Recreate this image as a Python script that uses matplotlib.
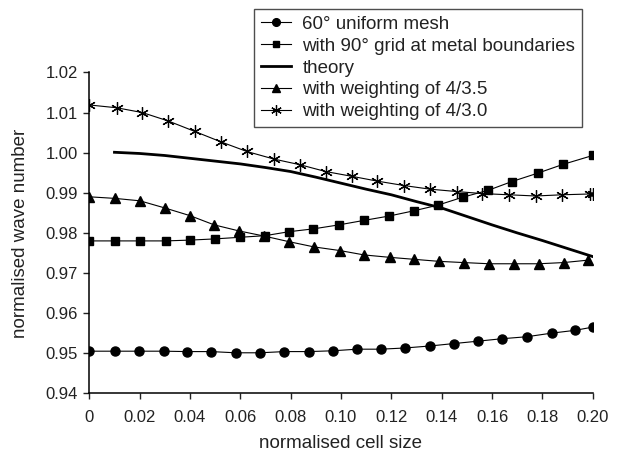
import numpy as np
import matplotlib.pyplot as plt

plt.rcParams['font.family'] = ['Liberation Sans', 'DejaVu Sans']

# 60 deg uniform mesh
x_mesh = [0, 0.0102, 0.0199, 0.0295, 0.0390, 0.0484, 0.0581, 0.0678, 0.0775, 0.0872, 0.0968,
          0.1064, 0.1159, 0.1254, 0.1354, 0.1448, 0.1545, 0.1638, 0.1738, 0.1837, 0.1930, 0.2000]
y_mesh = [0.9505, 0.9505, 0.9505, 0.9505, 0.9504, 0.9504, 0.9501, 0.9501, 0.9504, 0.9504, 0.9506,
          0.9510, 0.9510, 0.9513, 0.9518, 0.9524, 0.9530, 0.9536, 0.9541, 0.9550, 0.9557, 0.9565]

# with 90 deg grid at metal boundaries
x_grid = [0, 0.0102, 0.0201, 0.0303, 0.0400, 0.0499, 0.0598, 0.0698, 0.0794, 0.0890, 0.0992,
          0.1090, 0.1191, 0.1289, 0.1384, 0.1484, 0.1584, 0.1679, 0.1782, 0.1883, 0.2000]
y_grid = [0.9780, 0.9780, 0.9780, 0.9780, 0.9782, 0.9785, 0.9789, 0.9793, 0.9803, 0.9810, 0.9820,
          0.9831, 0.9842, 0.9855, 0.9869, 0.9889, 0.9906, 0.9928, 0.9949, 0.9971, 0.9993]

# theory
x_theory = [0.01, 0.02, 0.03, 0.04, 0.05, 0.06, 0.07, 0.08, 0.09, 0.10,
            0.11, 0.12, 0.13, 0.14, 0.15, 0.16, 0.17, 0.18, 0.19, 0.20]
y_theory = [1.0001, 0.9998, 0.9993, 0.9986, 0.9979, 0.9972, 0.9963, 0.9953, 0.9939, 0.9924,
            0.9909, 0.9895, 0.9878, 0.9862, 0.9841, 0.9820, 0.9800, 0.9781, 0.9761, 0.9741]

# weighting 4/3.5
x_w35 = [0, 0.0102, 0.0201, 0.0301, 0.0400, 0.0496, 0.0594, 0.0695, 0.0794, 0.0893, 0.0995,
         0.1092, 0.1194, 0.1292, 0.1390, 0.1487, 0.1589, 0.1686, 0.1785, 0.1885, 0.1981]
y_w35 = [0.9890, 0.9886, 0.9880, 0.9862, 0.9843, 0.9820, 0.9805, 0.9792, 0.9778, 0.9765, 0.9756,
         0.9745, 0.9739, 0.9734, 0.9729, 0.9726, 0.9723, 0.9723, 0.9723, 0.9726, 0.9732]

# weighting 4/3.0
x_w30 = [0, 0.0109, 0.0211, 0.0314, 0.0419, 0.0523, 0.0626, 0.0734, 0.0837, 0.0939, 0.1044,
         0.1145, 0.1251, 0.1354, 0.1461, 0.1562, 0.1668, 0.1773, 0.1878, 0.1988, 0.2000]
y_w30 = [1.0119, 1.0112, 1.0100, 1.0079, 1.0053, 1.0027, 1.0003, 0.9984, 0.9970, 0.9953, 0.9941,
         0.9929, 0.9918, 0.9909, 0.9903, 0.9898, 0.9895, 0.9892, 0.9895, 0.9897, 0.9897]

fig = plt.figure(figsize=(6.21, 4.53), dpi=100)
ax = fig.add_axes([0.1438, 0.1318, 0.8106, 0.7082])

ax.plot(x_mesh, y_mesh, '-', color='black', lw=0.8, marker='o', ms=6.5,
        label='60° uniform mesh')
ax.plot(x_grid, y_grid, '-', color='black', lw=0.8, marker='s', ms=5.5,
        label='with 90° grid at metal boundaries')
ax.plot(x_theory, y_theory, '-', color='black', lw=2, label='theory')
ax.plot(x_w35, y_w35, '-', color='black', lw=0.8, marker='^', ms=6.5,
        label='with weighting of 4/3.5')
ax.plot(x_w30, y_w30, '-', color='black', lw=0.8, marker=(6, 2, 0), ms=9, mew=0.9,
        label='with weighting of 4/3.0')

ax.set_xlim(0, 0.2)
ax.set_ylim(0.94, 1.02)
xt = np.arange(0, 0.2001, 0.02)
ax.set_xticks(xt)
ax.set_xticklabels(['0'] + ['%.2f' % v for v in xt[1:]])
yt = np.arange(0.94, 1.0201, 0.01)
ax.set_yticks(yt)
ax.set_yticklabels(['%.2f' % v for v in yt])
ax.tick_params(labelsize=12, direction='out', length=4, width=1, colors='#222222')
ax.tick_params(axis='x', pad=8)
ax.tick_params(axis='y', pad=4)
ax.spines['top'].set_visible(False)
ax.spines['right'].set_visible(False)
for s in ['left', 'bottom']:
    ax.spines[s].set_linewidth(1.1)
ax.set_xlabel('normalised cell size', fontsize=13.5, labelpad=7, color='#222222')
ax.set_ylabel('normalised wave number', fontsize=13.5, labelpad=12, color='#222222')

leg = fig.legend(loc='upper right', bbox_to_anchor=(0.9367, 0.9795), fontsize=13.5,
                 frameon=True, fancybox=False, edgecolor='#222222', borderaxespad=0,
                 handlelength=1.6, labelspacing=0.25, borderpad=0.35, handletextpad=0.6,
                 markerscale=0.85)
leg.get_frame().set_linewidth(1)
for t in leg.get_texts():
    t.set_color('#222222')

fig.savefig('out.png', dpi=100)
